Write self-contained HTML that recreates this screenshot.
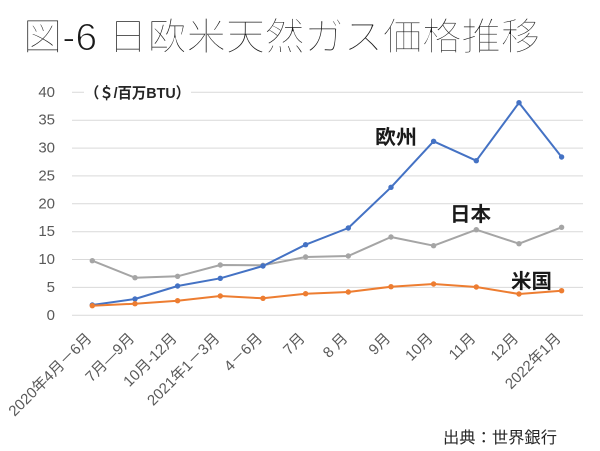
<!DOCTYPE html>
<html><head><meta charset="utf-8"><style>
html,body{margin:0;padding:0;background:#fff;}
svg{display:block;}
text{font-family:"Liberation Sans","Noto Sans CJK JP",sans-serif;}
</style></head><body>
<svg width="600" height="451" viewBox="0 0 600 451" xmlns="http://www.w3.org/2000/svg">
<rect width="600" height="451" fill="#fff"/>
<text x="23" y="50" font-size="38" font-weight="300" fill="#1a1a1a" stroke="#fff" stroke-width="1.1" textLength="517" lengthAdjust="spacingAndGlyphs">図-6 日欧米天然ガス価格推移</text>
<g stroke="#d9d9d9" stroke-width="1">
<line x1="72" y1="315.3" x2="583" y2="315.3"/>
<line x1="72" y1="287.4" x2="583" y2="287.4"/>
<line x1="72" y1="259.5" x2="583" y2="259.5"/>
<line x1="72" y1="231.7" x2="583" y2="231.7"/>
<line x1="72" y1="203.8" x2="583" y2="203.8"/>
<line x1="72" y1="175.9" x2="583" y2="175.9"/>
<line x1="72" y1="148.1" x2="583" y2="148.1"/>
<line x1="72" y1="120.2" x2="583" y2="120.2"/>
<line x1="72" y1="92.3" x2="583" y2="92.3"/>
</g>
<rect x="84" y="84" width="107" height="17" fill="#fff"/>
<text x="85" y="98" font-size="15" font-weight="bold" fill="#262626" textLength="105" lengthAdjust="spacingAndGlyphs">（＄/百万BTU）</text>
<g font-size="15" fill="#595959" text-anchor="end" dominant-baseline="central">
<text x="55" y="315.3">0</text>
<text x="55" y="287.4">5</text>
<text x="55" y="259.5">10</text>
<text x="55" y="231.7">15</text>
<text x="55" y="203.8">20</text>
<text x="55" y="175.9">25</text>
<text x="55" y="148.1">30</text>
<text x="55" y="120.2">35</text>
<text x="55" y="92.3">40</text>
</g>
<g font-size="15" fill="#595959" text-anchor="end" dominant-baseline="central">
<text transform="translate(89.3,336) rotate(-45)">2020年4月－6月</text>
<text transform="translate(132,336) rotate(-45)">7月—9月</text>
<text transform="translate(174.6,336) rotate(-45)">10月-12月</text>
<text transform="translate(217.3,336) rotate(-45)">2021年1－3月</text>
<text transform="translate(260,336) rotate(-45)">4－6月</text>
<text transform="translate(302.6,336) rotate(-45)">7月</text>
<text transform="translate(345.3,336) rotate(-45)">8 月</text>
<text transform="translate(388,336) rotate(-45)">9月</text>
<text transform="translate(430.6,336) rotate(-45)">10月</text>
<text transform="translate(473.3,336) rotate(-45)">11月</text>
<text transform="translate(516,336) rotate(-45)">12月</text>
<text transform="translate(558.6,336) rotate(-45)">2022年1月</text>
</g>
<!-- Japan gray -->
<polyline fill="none" stroke="#a5a5a5" stroke-width="2" stroke-linejoin="round" points="92.3,260.7 135,277.7 177.6,276.3 220.3,265 263,265.3 305.6,257 348.3,256 391,237 433.6,245.7 476.3,229.7 519,243.7 561.6,227.3"/>
<g fill="#a5a5a5">
<circle cx="92.3" cy="260.7" r="2.7"/><circle cx="135" cy="277.7" r="2.7"/><circle cx="177.6" cy="276.3" r="2.7"/><circle cx="220.3" cy="265" r="2.7"/><circle cx="263" cy="265.3" r="2.7"/><circle cx="305.6" cy="257" r="2.7"/><circle cx="348.3" cy="256" r="2.7"/><circle cx="391" cy="237" r="2.7"/><circle cx="433.6" cy="245.7" r="2.7"/><circle cx="476.3" cy="229.7" r="2.7"/><circle cx="519" cy="243.7" r="2.7"/><circle cx="561.6" cy="227.3" r="2.7"/>
</g>
<!-- Europe blue -->
<polyline fill="none" stroke="#4472c4" stroke-width="2" stroke-linejoin="round" points="92.3,305 135,299 177.6,286 220.3,278.3 263,266 305.6,244.7 348.3,228 391,187.3 433.6,141.3 476.3,160.7 519,102.7 561.6,157"/>
<g fill="#4472c4">
<circle cx="92.3" cy="305" r="2.7"/><circle cx="135" cy="299" r="2.7"/><circle cx="177.6" cy="286" r="2.7"/><circle cx="220.3" cy="278.3" r="2.7"/><circle cx="263" cy="266" r="2.7"/><circle cx="305.6" cy="244.7" r="2.7"/><circle cx="348.3" cy="228" r="2.7"/><circle cx="391" cy="187.3" r="2.7"/><circle cx="433.6" cy="141.3" r="2.7"/><circle cx="476.3" cy="160.7" r="2.7"/><circle cx="519" cy="102.7" r="2.7"/><circle cx="561.6" cy="157" r="2.7"/>
</g>
<!-- US orange -->
<polyline fill="none" stroke="#ed7d31" stroke-width="2" stroke-linejoin="round" points="92.3,305.7 135,303.7 177.6,300.7 220.3,296 263,298.3 305.6,293.7 348.3,292 391,286.7 433.6,284 476.3,287 519,294 561.6,290.7"/>
<g fill="#ed7d31">
<circle cx="92.3" cy="305.7" r="2.7"/><circle cx="135" cy="303.7" r="2.7"/><circle cx="177.6" cy="300.7" r="2.7"/><circle cx="220.3" cy="296" r="2.7"/><circle cx="263" cy="298.3" r="2.7"/><circle cx="305.6" cy="293.7" r="2.7"/><circle cx="348.3" cy="292" r="2.7"/><circle cx="391" cy="286.7" r="2.7"/><circle cx="433.6" cy="284" r="2.7"/><circle cx="476.3" cy="287" r="2.7"/><circle cx="519" cy="294" r="2.7"/><circle cx="561.6" cy="290.7" r="2.7"/>
</g>
<g font-size="20" font-weight="bold" fill="#1a1a1a">
<text x="375" y="144" textLength="42" lengthAdjust="spacingAndGlyphs">欧州</text>
<text x="450" y="221" textLength="41" lengthAdjust="spacingAndGlyphs">日本</text>
<text x="511" y="288" textLength="41" lengthAdjust="spacingAndGlyphs">米国</text>
</g>
<text x="443" y="443" font-size="16" fill="#262626" textLength="114" lengthAdjust="spacingAndGlyphs">出典：世界銀行</text>
</svg>
</body></html>
